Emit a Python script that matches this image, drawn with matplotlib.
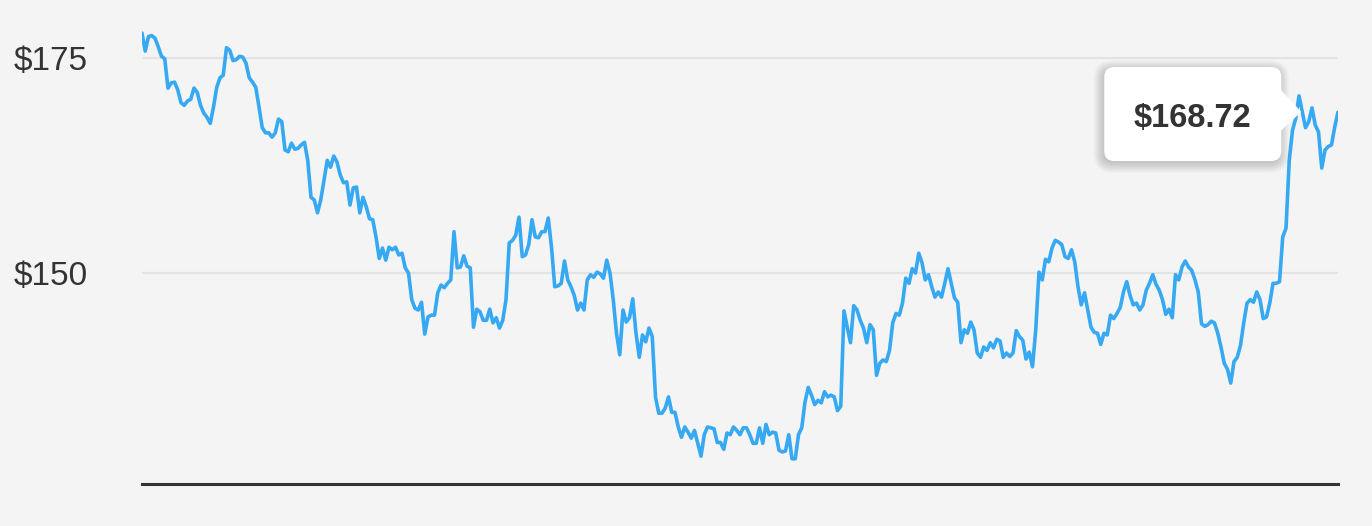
import numpy as np
import matplotlib.pyplot as plt
from matplotlib.patches import FancyBboxPatch, Polygon
from matplotlib.transforms import ScaledTranslation

plt.rcParams['font.family'] = ['Liberation Sans', 'DejaVu Sans']

# closing prices left to right
prices = [
    177.9, 175.8, 177.5, 177.6, 177.3, 176.3, 175.2, 174.9, 171.5, 172.1,
    172.2, 171.3, 169.8, 169.5, 170.0, 170.2, 171.5, 171.0, 169.5, 168.6,
    168.1, 167.4, 169.3, 171.6, 172.7, 173.0, 176.2, 175.9, 174.7, 174.8,
    175.2, 175.1, 174.4, 172.7, 172.2, 171.6, 169.3, 166.9, 166.3, 166.3,
    165.8, 166.3, 167.9, 167.6, 164.3, 164.1, 165.1, 164.4, 164.5, 164.9,
    165.2, 163.1, 158.8, 158.5, 157.0, 158.5, 160.8, 163.1, 162.3, 163.6,
    162.9, 161.4, 160.5, 160.6, 157.9, 159.9, 160.0, 157.0, 158.8, 157.7,
    156.3, 156.2, 154.2, 151.7, 152.9,
    151.5, 153.0, 152.7, 153.0, 152.1, 152.3, 150.6, 150.0, 146.9, 145.9,
    145.7, 146.6, 142.9, 144.9, 145.1, 145.1, 147.7, 148.6, 148.3, 148.8,
    149.2, 154.8, 150.6, 150.7, 152.0, 150.8, 150.6, 143.7, 145.8, 145.5,
    144.5, 144.5, 145.8, 144.2, 144.8, 143.6, 144.5, 146.9, 153.5, 153.8,
    154.4, 156.5, 151.9, 152.1, 153.3, 156.2, 154.2, 154.1, 154.8, 154.8,
    156.4, 153.0, 148.4, 148.5, 148.8, 151.4, 149.2, 148.4, 147.4, 145.7,
    146.5, 145.7, 149.2, 149.8, 149.5, 150.1, 149.9, 149.4, 151.5, 150.0,
    146.9, 143.0, 140.5, 145.7, 144.3, 144.8, 147.0, 143.0, 140.2, 142.8,
    142.0, 143.6, 142.6, 135.6, 133.7, 133.7, 134.3, 135.6, 133.8, 133.8,
    132.1, 130.9, 132.1, 131.5, 130.8, 131.7, 130.2, 128.7, 131.2, 132.1,
    132.0, 131.9, 130.3, 130.3, 129.5, 131.4, 131.2, 132.1, 131.7, 131.2,
    132.0, 132.0, 131.2, 130.2, 130.2, 132.0, 130.2, 132.4, 131.2, 131.5,
    131.4, 129.4, 129.2, 129.3, 131.2, 128.4, 128.4, 131.2, 132.0, 135.0,
    136.7, 135.8, 134.7, 135.2, 134.9, 136.2, 135.6, 135.8, 135.6, 134.0,
    134.5,
    145.6, 143.7, 141.9, 146.2, 145.7, 144.5, 143.6, 141.9, 144.0, 143.4,
    138.1, 139.5, 139.9, 139.7, 141.0, 144.2, 145.3, 145.1, 146.5, 149.4,
    148.8, 150.5, 150.0, 152.3, 151.2, 149.2, 149.8, 148.4, 147.2, 147.8,
    147.2, 148.8, 150.5, 148.8, 147.1, 146.6, 141.9, 143.4, 143.0, 144.3,
    143.4, 140.7, 140.2, 141.4, 141.0, 141.9, 141.3, 142.3, 142.1, 140.2,
    140.7, 140.3, 140.7, 143.3, 142.6, 142.2, 140.0, 140.8, 139.1, 143.4,
    150.1, 149.2, 151.6, 151.3, 152.9, 153.8, 153.6, 153.3, 151.9, 151.7,
    152.7,
    151.3, 148.4, 146.3, 147.7, 145.7, 143.7, 143.1, 143.0, 141.7, 143.0,
    142.8, 145.1, 144.7, 145.3, 146.0, 147.8, 149.0, 147.4, 146.3, 146.5,
    145.7, 146.3, 148.0, 148.8, 149.8, 148.7, 148.0, 146.9, 145.2, 145.8,
    144.8, 149.8, 149.2, 150.7, 151.4, 150.7, 150.3, 149.2, 147.8, 144.1,
    143.8, 144.0, 144.4, 144.2, 143.0, 141.4, 139.5, 138.8, 137.2, 139.7,
    140.2, 141.6, 144.2, 146.5, 146.9, 146.6, 147.8, 146.9, 144.7, 144.9,
    146.5, 148.8, 148.8, 149.0, 154.2, 155.2,
    163.1, 166.6, 168.0, 170.6, 168.72, 166.9, 167.6, 169.2, 167.2, 166.4,
    162.2, 164.3, 164.7, 164.9, 167.0, 168.7,
]

tick_values = [150, 175]
tick_labels = ['$150', '$175']
hover_idx = 357
hover_label = '$168.72'

bg = '#f4f4f4'
line_color = '#36a9f2'
text_color = '#333333'

fig = plt.figure(figsize=(13.72, 5.26), dpi=100, facecolor=bg)
ax = fig.add_axes([142 / 1372, 42 / 526, 1196 / 1372, 474 / 526])
ax.set_facecolor(bg)

x = np.arange(len(prices))
ax.plot(x, prices, color=line_color, lw=2.6, solid_joinstyle='round',
        solid_capstyle='round', zorder=3)
ax.set_xlim(0, len(prices) - 1)
ax.set_ylim(125.47, 180.58)

ax.set_yticks(tick_values, tick_labels)
ax.set_xticks([])
ax.yaxis.grid(True, color='#e3e3e3', lw=1.6)
ax.set_axisbelow(True)
ax.tick_params(axis='y', length=0, pad=39, labelsize=24, labelcolor=text_color)
for s in ['top', 'right', 'left']:
    ax.spines[s].set_visible(False)
ax.spines['bottom'].set_color(text_color)
ax.spines['bottom'].set_linewidth(2.2)

# tooltip, drawn in inches relative to the hovered point
tr = fig.dpi_scale_trans + ScaledTranslation(hover_idx, prices[hover_idx], ax.transData)
for i in range(8):
    ax.add_patch(FancyBboxPatch((-1.895, -0.415), 1.57, 0.74,
                                boxstyle='round,pad=%.3f' % (0.1 + i * 0.013),
                                fc='black', ec='none', alpha=0.022,
                                transform=tr, clip_on=False, zorder=5))
ax.add_patch(FancyBboxPatch((-1.88, -0.39), 1.57, 0.74, boxstyle='round,pad=0.1',
                            fc='white', ec='none', transform=tr, clip_on=False, zorder=6))
ax.add_patch(Polygon([(-0.23, 0.24), (-0.01, 0.0), (-0.23, -0.2)], closed=True,
                     fc='white', ec='none', transform=tr, clip_on=False, zorder=6))
ax.text(-1.10, -0.067, hover_label, transform=tr, ha='center', va='center',
        fontsize=23.5, fontweight='bold', color=text_color, zorder=7)

fig.savefig('out.png', dpi=100, facecolor=bg)
